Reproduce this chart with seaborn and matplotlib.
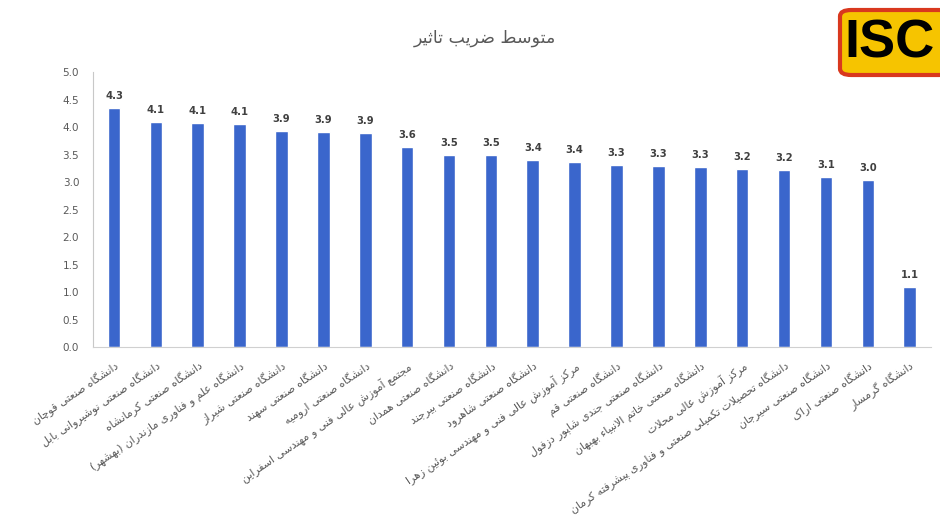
import matplotlib
matplotlib.use("Agg")
import matplotlib.pyplot as plt
from matplotlib.patches import FancyBboxPatch
import seaborn as sns
import pandas as pd

# ---------------- data ----------------
title = "متوسط ضریب تاثیر"
universities = [
    "دانشگاه صنعتی قوچان",
    "دانشگاه صنعتی نوشیروانی بابل",
    "دانشگاه صنعتی کرمانشاه",
    "دانشگاه علم و فناوری مازندران (بهشهر)",
    "دانشگاه صنعتی شیراز",
    "دانشگاه صنعتی سهند",
    "دانشگاه صنعتی ارومیه",
    "مجتمع آموزش عالی فنی و مهندسی اسفراین",
    "دانشگاه صنعتی همدان",
    "دانشگاه صنعتی بیرجند",
    "دانشگاه صنعتی شاهرود",
    "مرکز آموزش عالی فنی و مهندسی بوئین زهرا",
    "دانشگاه صنعتی قم",
    "دانشگاه صنعتی جندی شاپور دزفول",
    "دانشگاه صنعتی خاتم الانبیاء بهبهان",
    "مرکز آموزش عالی محلات",
    "دانشگاه تحصیلات تکمیلی صنعتی و فناوری پیشرفته کرمان",
    "دانشگاه صنعتی سیرجان",
    "دانشگاه صنعتی اراک",
    "دانشگاه گرمسار",
]
impact = [4.34, 4.09, 4.08, 4.06, 3.93, 3.91, 3.90, 3.64, 3.50, 3.49,
          3.41, 3.36, 3.31, 3.29, 3.28, 3.24, 3.22, 3.09, 3.04, 1.10]
y_ticks = [0.0, 0.5, 1.0, 1.5, 2.0, 2.5, 3.0, 3.5, 4.0, 4.5, 5.0]
logo_text = "ISC"

# ------------- minimal Persian shaping (matplotlib has no RTL shaping) -------------
FORMS = {
    "ا": (0xFE8D, 0xFE8E, None, None), "آ": (0xFE81, 0xFE82, None, None),
    "أ": (0xFE83, 0xFE84, None, None),
    "ب": (0xFE8F, 0xFE90, 0xFE91, 0xFE92), "پ": (0xFB56, 0xFB57, 0xFB58, 0xFB59),
    "ت": (0xFE95, 0xFE96, 0xFE97, 0xFE98), "ث": (0xFE99, 0xFE9A, 0xFE9B, 0xFE9C),
    "ج": (0xFE9D, 0xFE9E, 0xFE9F, 0xFEA0), "چ": (0xFB7A, 0xFB7B, 0xFB7C, 0xFB7D),
    "ح": (0xFEA1, 0xFEA2, 0xFEA3, 0xFEA4), "خ": (0xFEA5, 0xFEA6, 0xFEA7, 0xFEA8),
    "د": (0xFEA9, 0xFEAA, None, None), "ذ": (0xFEAB, 0xFEAC, None, None),
    "ر": (0xFEAD, 0xFEAE, None, None), "ز": (0xFEAF, 0xFEB0, None, None),
    "ژ": (0xFB8A, 0xFB8B, None, None),
    "س": (0xFEB1, 0xFEB2, 0xFEB3, 0xFEB4), "ش": (0xFEB5, 0xFEB6, 0xFEB7, 0xFEB8),
    "ص": (0xFEB9, 0xFEBA, 0xFEBB, 0xFEBC), "ض": (0xFEBD, 0xFEBE, 0xFEBF, 0xFEC0),
    "ط": (0xFEC1, 0xFEC2, 0xFEC3, 0xFEC4), "ظ": (0xFEC5, 0xFEC6, 0xFEC7, 0xFEC8),
    "ع": (0xFEC9, 0xFECA, 0xFECB, 0xFECC), "غ": (0xFECD, 0xFECE, 0xFECF, 0xFED0),
    "ف": (0xFED1, 0xFED2, 0xFED3, 0xFED4), "ق": (0xFED5, 0xFED6, 0xFED7, 0xFED8),
    "ک": (0xFB8E, 0xFB8F, 0xFB90, 0xFB91), "گ": (0xFB92, 0xFB93, 0xFB94, 0xFB95),
    "ل": (0xFEDD, 0xFEDE, 0xFEDF, 0xFEE0), "م": (0xFEE1, 0xFEE2, 0xFEE3, 0xFEE4),
    "ن": (0xFEE5, 0xFEE6, 0xFEE7, 0xFEE8), "و": (0xFEED, 0xFEEE, None, None),
    "ه": (0xFEE9, 0xFEEA, 0xFEEB, 0xFEEC), "ی": (0xFBFC, 0xFBFD, 0xFBFE, 0xFBFF),
    "ئ": (0xFE89, 0xFE8A, 0xFE8B, 0xFE8C),
}
LAM_ALEF = {"ا": (0xFEFB, 0xFEFC), "آ": (0xFEF5, 0xFEF6), "أ": (0xFEF7, 0xFEF8)}
MIRROR = {"(": ")", ")": "("}


def _dual(c):
    return c in FORMS and FORMS[c][2] is not None


def shape_line(s):
    out = []
    i = 0
    n = len(s)
    while i < n:
        c = s[i]
        prev = s[i - 1] if i > 0 else ""
        joins_prev = _dual(prev)
        if c == "ل" and i + 1 < n and s[i + 1] in LAM_ALEF:
            iso, fin = LAM_ALEF[s[i + 1]]
            out.append(chr(fin if joins_prev else iso))
            i += 2
            continue
        if c in FORMS:
            iso, fin, ini, med = FORMS[c]
            nxt = s[i + 1] if i + 1 < n else ""
            joins_next = ini is not None and nxt in FORMS
            if joins_prev and joins_next:
                out.append(chr(med))
            elif joins_prev:
                out.append(chr(fin))
            elif joins_next:
                out.append(chr(ini))
            else:
                out.append(chr(iso))
        else:
            out.append(c)
        i += 1
    vis = out[::-1]
    return "".join(MIRROR.get(ch, ch) for ch in vis)


def shape(s):
    return "\n".join(shape_line(line) for line in s.split("\n"))


# ---------------- plot ----------------
sns.set_theme(style="white")
plt.rcParams["font.family"] = ["DejaVu Sans"]

fig = plt.figure(figsize=(9.4, 5.26), dpi=100)
fig.patch.set_facecolor("white")
ax = fig.add_axes([0.099, 0.340, 0.891, 0.523])

df = pd.DataFrame({"university": universities, "impact": impact})
sns.barplot(data=df, x="university", y="impact", color="#3a66cc",
            saturation=1, width=0.3, ax=ax)

ax.set_ylim(0, 5)
ax.set_xlim(-0.5, len(universities) - 0.5)
ax.set_yticks(y_ticks)
ax.set_yticklabels([f"{t:.1f}" for t in y_ticks], fontsize=7.5, color="#595959")
ax.set_xticks(range(len(universities)))
ax.set_xticklabels([shape(u) for u in universities], rotation=34, ha="right",
                   va="top", rotation_mode="anchor", fontsize=7.8,
                   color="#595959")
ax.tick_params(axis="both", length=0)
ax.tick_params(axis="x", pad=9)
ax.tick_params(axis="y", pad=10)
ax.set_xlabel("")
ax.set_ylabel("")
ax.grid(False)
for side in ["top", "right"]:
    ax.spines[side].set_visible(False)
ax.spines["left"].set_color("#c8c8c8")
ax.spines["left"].set_linewidth(0.8)
ax.spines["bottom"].set_color("#d0d0d0")
ax.spines["bottom"].set_linewidth(0.8)

ax.bar_label(ax.containers[0], labels=[f"{v:.1f}" for v in impact], padding=5,
             fontsize=7.2, color="#404040", fontweight="bold")

fig.text(0.516, 0.928, shape(title), ha="center", va="center",
         fontsize=12.5, color="#595959")

# ISC logo
logo = FancyBboxPatch((840 / 940, (526 - 75) / 526), 110 / 940, 65 / 526,
                      boxstyle="round,pad=0,rounding_size=0.012",
                      transform=fig.transFigure, facecolor="#f6c400",
                      edgecolor="#d9381e", linewidth=3, zorder=5)
fig.add_artist(logo)
fig.text(844 / 940, (526 - 43) / 526, logo_text, ha="left", va="center",
         fontsize=39, fontweight="heavy", color="black",
         family=["Liberation Sans", "DejaVu Sans"],
         zorder=6)

fig.savefig("out.png", dpi=100, facecolor="white")
